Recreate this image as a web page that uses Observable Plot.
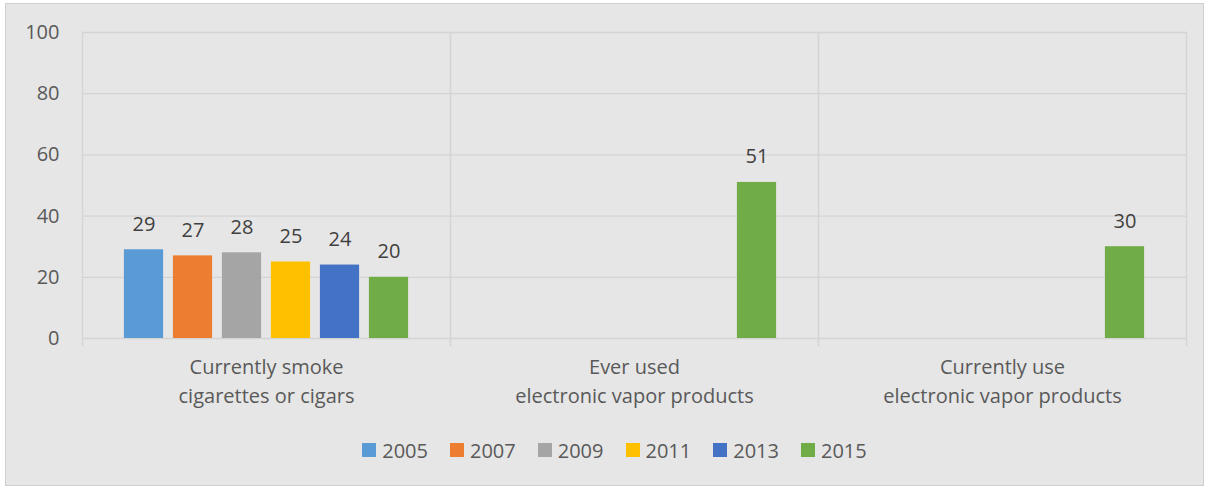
<!DOCTYPE html>
<html>
<head>
<meta charset="utf-8">
<script src="https://cdn.jsdelivr.net/npm/d3@7"></script>
<script src="https://cdn.jsdelivr.net/npm/@observablehq/plot@0.6"></script>
<style>
  html, body { margin: 0; padding: 0; background: #ffffff; }
  #box {
    position: absolute; left: 5px; top: 3px;
    width: 1197px; height: 481px;
    background: #e6e6e6; border: 1px solid #d0d0d0;
    font-family: "Open Sans", sans-serif;
  }
  #legend {
    display: flex; justify-content: center; align-items: center;
    height: 72px; font-size: 20px; color: #595959; padding-left: 20px;
  }
  .item { display: flex; align-items: center; margin: 0 11px; }
  .sw { width: 14px; height: 14px; margin-right: 6px; }
</style>
</head>
<body>
<div id="box"><div id="chart"></div><div id="legend"></div></div>
<script>
const categories = ["Currently smoke\ncigarettes or cigars", "Ever used\nelectronic vapor products", "Currently use\nelectronic vapor products"];
const years = ["2005", "2007", "2009", "2011", "2013", "2015"];
const yearColors = ["#5b9bd5", "#ed7d31", "#a5a5a5", "#ffc000", "#4472c4", "#70ad47"];
const smokeValues = [29, 27, 28, 25, 24, 20];
const everVaporYears = ["2015"];
const everVaporValues = [51];
const currentVaporYears = ["2015"];
const currentVaporValues = [30];
const yTicks = [0, 20, 40, 60, 80, 100];

const data = [];
years.forEach((y, i) => data.push({category: categories[0], year: y, value: smokeValues[i]}));
everVaporYears.forEach((y, i) => data.push({category: categories[1], year: y, value: everVaporValues[i]}));
currentVaporYears.forEach((y, i) => data.push({category: categories[2], year: y, value: currentVaporValues[i]}));

const gridColor = "#d4d4d4";

const chart = Plot.plot({
  width: 1197,
  height: 410,
  marginLeft: 76,
  marginRight: 17,
  marginTop: 28,
  marginBottom: 76,
  style: {background: "transparent", fontFamily: "Open Sans, sans-serif", fontSize: "20px"},
  fx: {domain: categories, padding: 0, round: false, label: null},
  x: {domain: years, paddingInner: 0.2, paddingOuter: 0.855, round: false, axis: null},
  y: {domain: [0, 100]},
  color: {domain: years, range: yearColors},
  marks: [
    Plot.ruleY(yTicks, {stroke: gridColor, strokeWidth: 1.3}),
    Plot.frame({anchor: "left", stroke: gridColor, strokeWidth: 1.3, insetBottom: -7}),
    Plot.frame({anchor: "right", stroke: gridColor, strokeWidth: 1.3, insetBottom: -7}),
    Plot.barY(data, {fx: "category", x: "year", y: "value", fill: "year"}),
    Plot.text(data, {fx: "category", x: "year", y: "value", text: d => String(d.value),
      dy: -19, lineAnchor: "bottom", fontSize: 20, fill: "#404040"}),
    Plot.axisY({ticks: yTicks, tickSize: 0, tickPadding: 23, fontSize: 20, fill: "#595959", label: null}),
    Plot.axisFx({anchor: "bottom", tickSize: 0, tickPadding: 15, lineHeight: 1.45, fontSize: 20, fill: "#595959", label: null})
  ]
});
document.getElementById("chart").appendChild(chart);

const legend = document.getElementById("legend");
years.forEach((y, i) => {
  const item = document.createElement("div");
  item.className = "item";
  const sw = document.createElement("div");
  sw.className = "sw";
  sw.style.background = yearColors[i];
  const t = document.createElement("span");
  t.textContent = y;
  item.appendChild(sw);
  item.appendChild(t);
  legend.appendChild(item);
});
</script>
</body>
</html>
